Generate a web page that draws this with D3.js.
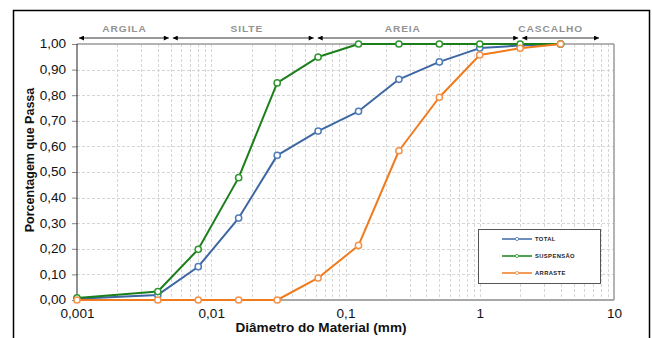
<!DOCTYPE html>
<html><head><meta charset="utf-8">
<script src="https://cdn.jsdelivr.net/npm/d3@7"></script>
<style>body{margin:0;background:#fff}svg{display:block;font-family:"Liberation Sans",Arial,sans-serif}</style>
</head><body><svg id="c" width="652" height="338"></svg>
<script>
// ---- data ----
const diameters = [0.001, 0.004, 0.008, 0.016, 0.031, 0.0625, 0.125, 0.25, 0.5, 1, 2, 4];
const total     = [0.005, 0.02, 0.13, 0.32, 0.565, 0.66, 0.737, 0.862, 0.93, 0.984, 0.994, 1.0];
const suspensao = [0.008, 0.033, 0.198, 0.478, 0.848, 0.949, 1.0, 1.0, 1.0, 1.0, 1.0, 1.0];
const arraste   = [0, 0, 0, 0, 0, 0.086, 0.213, 0.583, 0.792, 0.957, 0.983, 1.0];
const seriesNames = ["TOTAL", "SUSPENSÃO", "ARRASTE"];
const xTickValues = [0.001, 0.01, 0.1, 1, 10];
const xTickLabels = ["0,001", "0,01", "0,1", "1", "10"];
const yTickValues = [0, 0.1, 0.2, 0.3, 0.4, 0.5, 0.6, 0.7, 0.8, 0.9, 1.0];
const zoneNames = ["ARGILA", "SILTE", "AREIA", "CASCALHO"];
const zoneBounds = [0.001, 0.005, 0.06, 2, 8];
const zoneLabelAt = [0.00226, 0.0184, 0.267, 3.38];
const xTitle = "Diâmetro do Material (mm)";
const yTitle = "Porcentagem que Passa";

const colors = ["#3d67a3", "#1c7f1c", "#f07a1c"];
const markerStroke = ["#4f7cb8", "#2f962f", "#f5924a"];
const series = [total, suspensao, arraste];

const svg = d3.select("#c");
const x = d3.scaleLog().domain([0.001, 10]).range([77, 614]);
const y = d3.scaleLinear().domain([0, 1]).range([300, 44]);
const SX = 1.13;
const loc = d3.formatLocale({decimal: ",", thousands: ".", grouping: [3], currency: ["", ""]});
const fmt = loc.format(".2f");

svg.append("rect").attr("width", 652).attr("height", 338).attr("fill", "#fff");
// outer frame
svg.append("rect").attr("x", 13.5).attr("y", 10.5).attr("width", 636).attr("height", 345)
  .attr("fill", "none").attr("stroke", "#000").attr("stroke-width", 1.5);

// grid
const minor = [];
[0.001, 0.01, 0.1, 1].forEach(d => { for (let k = 1; k <= 9; k++) minor.push(d * k); });
svg.append("g").selectAll("line").data(minor.filter(v => v > 0.001)).join("line")
  .attr("x1", d => Math.round(x(d)) + 0.5).attr("x2", d => Math.round(x(d)) + 0.5)
  .attr("y1", y(1)).attr("y2", y(0))
  .attr("stroke", "#d6d6d6").attr("stroke-width", 1).attr("stroke-dasharray", "3,2");
svg.append("g").selectAll("line").data(yTickValues.filter(v => v > 0 && v < 1)).join("line")
  .attr("x1", x(0.001)).attr("x2", x(10))
  .attr("y1", d => Math.round(y(d)) + 0.5).attr("y2", d => Math.round(y(d)) + 0.5)
  .attr("stroke", "#d6d6d6").attr("stroke-width", 1).attr("stroke-dasharray", "3,2");

// plot border
svg.append("line").attr("x1", x(0.001)).attr("x2", x(10)).attr("y1", y(1)).attr("y2", y(1))
  .attr("stroke", "#9a9a9a").attr("stroke-width", 1.5);
svg.append("line").attr("x1", x(10)).attr("x2", x(10)).attr("y1", y(1)).attr("y2", y(0))
  .attr("stroke", "#9a9a9a").attr("stroke-width", 1.5);
svg.append("line").attr("x1", x(0.001)).attr("x2", x(10)).attr("y1", y(0)).attr("y2", y(0))
  .attr("stroke", "#a8a8a8").attr("stroke-width", 2);

// y axis
const yAxis = d3.axisLeft(y).tickValues(yTickValues).tickFormat(fmt).tickSize(5).tickPadding(4.7);
const gy = svg.append("g").attr("transform", `translate(${x(0.001)},0)`).call(yAxis);
gy.select(".domain").remove();
gy.selectAll(".tick line").attr("stroke", "#888");
gy.selectAll(".tick text").attr("font-size", 12).attr("fill", "#111")
  .attr("font-family", "Liberation Sans, Arial, sans-serif")
  .attr("transform", `scale(${SX},1)`);
svg.append("line").attr("x1", x(0.001)).attr("x2", x(0.001)).attr("y1", y(1)).attr("y2", y(0))
  .attr("stroke", "#222").attr("stroke-width", 1);

// x axis
const xAxis = d3.axisBottom(x).tickValues(xTickValues).tickFormat((d, i) => xTickLabels[i]).tickSize(0);
const gx = svg.append("g").attr("transform", `translate(0,${y(0)})`).call(xAxis);
gx.select(".domain").remove();
gx.selectAll(".tick text").attr("font-size", 12).attr("fill", "#111")
  .attr("font-family", "Liberation Sans, Arial, sans-serif")
  .attr("y", 14).attr("dy", "0.32em").attr("transform", `scale(${SX},1)`);

// axis titles
svg.append("text").attr("transform", `translate(321,332) scale(${SX},1)`)
  .attr("text-anchor", "middle").attr("font-size", 12).attr("font-weight", "bold").attr("fill", "#111").text(xTitle);
svg.append("text").attr("transform", "translate(34,160) rotate(-90)")
  .attr("text-anchor", "middle").attr("font-size", 12.5).attr("font-weight", "bold").attr("fill", "#111").text(yTitle);

// zone arrows
const defs = svg.append("defs");
defs.append("marker").attr("id", "ah").attr("viewBox", "0 0 10 10").attr("refX", 10).attr("refY", 5)
  .attr("markerWidth", 8).attr("markerHeight", 5).attr("markerUnits", "userSpaceOnUse").attr("orient", "auto-start-reverse")
  .append("path").attr("d", "M0,0 L10,5 L0,10 Z").attr("fill", "#000");
const zy = 38;
zoneNames.forEach((n, i) => {
  svg.append("line").attr("x1", x(zoneBounds[i]) + 2).attr("x2", x(zoneBounds[i + 1]) - 2)
    .attr("y1", zy).attr("y2", zy).attr("stroke", "#333").attr("stroke-width", 1)
    .attr("marker-start", "url(#ah)").attr("marker-end", "url(#ah)");
  svg.append("text").attr("transform", `translate(${x(zoneLabelAt[i])},32) scale(${SX},1)`)
    .attr("text-anchor", "middle").attr("font-size", 9).attr("font-weight", "bold")
    .attr("letter-spacing", 0.8).attr("fill", "#939393").text(n);
});

// series
const line = d3.line().x((d, i) => x(diameters[i])).y(d => y(d));
series.forEach((s, k) => {
  svg.append("path").datum(s).attr("d", line).attr("fill", "none")
    .attr("stroke", colors[k]).attr("stroke-width", 2).attr("stroke-linejoin", "round");
  svg.append("g").selectAll("circle").data(s).join("circle")
    .attr("cx", (d, i) => x(diameters[i])).attr("cy", d => y(d)).attr("r", 3.1)
    .attr("fill", "#fff").attr("stroke", markerStroke[k]).attr("stroke-width", 1.5);
});

// legend
const lg = svg.append("g");
lg.append("rect").attr("x", 478.5).attr("y", 229.5).attr("width", 122).attr("height", 54)
  .attr("fill", "#fff").attr("stroke", "#555").attr("stroke-width", 1);
seriesNames.forEach((n, k) => {
  const ly = 239 + k * 17;
  lg.append("line").attr("x1", 502).attr("x2", 532).attr("y1", ly).attr("y2", ly)
    .attr("stroke", colors[k]).attr("stroke-width", 1.5);
  lg.append("circle").attr("cx", 517).attr("cy", ly).attr("r", 1.6)
    .attr("fill", "#fff").attr("stroke", markerStroke[k]).attr("stroke-width", 0.8);
  lg.append("text").attr("x", 535).attr("y", ly + 2).attr("font-size", 5.8).attr("font-weight", "bold")
    .attr("letter-spacing", 0.4).attr("fill", "#222").text(n);
});
</script></body></html>
